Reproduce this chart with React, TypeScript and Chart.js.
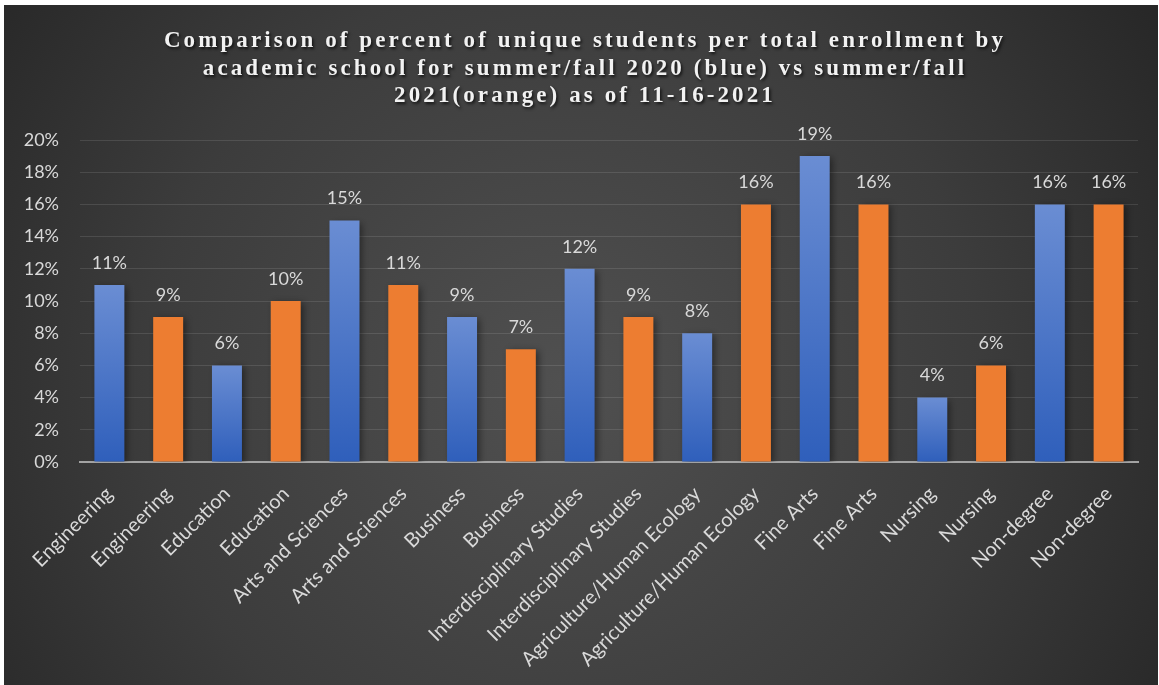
import React, { useEffect, useRef } from "react";
import { Chart, registerables } from "chart.js";

Chart.register(...registerables);

const categories: string[] = [
  "Engineering", "Engineering",
  "Education", "Education",
  "Arts and Sciences", "Arts and Sciences",
  "Business", "Business",
  "Interdisciplinary Studies", "Interdisciplinary Studies",
  "Agriculture/Human Ecology", "Agriculture/Human Ecology",
  "Fine Arts", "Fine Arts",
  "Nursing", "Nursing",
  "Non-degree", "Non-degree",
];

const percentValues: number[] = [11, 9, 6, 10, 15, 11, 9, 7, 12, 9, 8, 16, 19, 16, 4, 6, 16, 16];

// 0 = summer/fall 2020 (blue), 1 = summer/fall 2021 (orange)
const yearGroup: number[] = [0, 1, 0, 1, 0, 1, 0, 1, 0, 1, 0, 1, 0, 1, 0, 1, 0, 1];

const titleLines: string[] = [
  "Comparison of percent of unique students per total enrollment by",
  "academic school for summer/fall 2020 (blue) vs summer/fall",
  "2021(orange) as of 11-16-2021",
];

const yMin = 0;
const yMax = 20;
const yStep = 2;

const W = 1154;
const H = 680;
const LABEL_FONT = "Lato";
const TEXT_COLOR = "#d9d9d9";

const backgroundPlugin = {
  id: "bgGradient",
  beforeDraw(chart: any) {
    const { ctx, width, height } = chart;
    ctx.save();
    const g = ctx.createRadialGradient(560, 380, 0, 560, 380, 760);
    g.addColorStop(0, "#505050");
    g.addColorStop(0.55, "#3c3c3c");
    g.addColorStop(1, "#232323");
    ctx.fillStyle = g;
    ctx.fillRect(0, 0, width, height);
    ctx.restore();
  },
};

const shadowPlugin = {
  id: "barShadow",
  beforeDatasetsDraw(chart: any) {
    const ctx = chart.ctx;
    ctx.save();
    ctx.shadowColor = "rgba(0,0,0,0.45)";
    ctx.shadowBlur = 7;
    ctx.shadowOffsetX = 3;
    ctx.shadowOffsetY = 2;
  },
  afterDatasetsDraw(chart: any) {
    chart.ctx.restore();
  },
};

const labelsPlugin = {
  id: "valueLabels",
  afterDatasetsDraw(chart: any) {
    const ctx = chart.ctx;
    const meta = chart.getDatasetMeta(0);
    ctx.save();
    ctx.font = `18px ${LABEL_FONT}`;
    ctx.fillStyle = TEXT_COLOR;
    ctx.textAlign = "center";
    ctx.textBaseline = "middle";
    meta.data.forEach((el: any, i: number) => {
      ctx.fillText(`${percentValues[i]}%`, el.x, el.y - 22);
    });
    ctx.restore();
  },
};

const titlePlugin = {
  id: "spacedTitle",
  afterDraw(chart: any) {
    const ctx = chart.ctx;
    ctx.save();
    ctx.font = `bold 23px "Liberation Serif"`;
    (ctx as any).letterSpacing = "3.1px";
    ctx.fillStyle = "#f2f2f2";
    ctx.textAlign = "center";
    ctx.textBaseline = "alphabetic";
    ctx.shadowColor = "rgba(0,0,0,0.7)";
    ctx.shadowBlur = 3;
    ctx.shadowOffsetX = 1.5;
    ctx.shadowOffsetY = 2;
    const baselines = [42, 70, 97];
    titleLines.forEach((line, i) => {
      ctx.fillText(line, 581, baselines[i]);
    });
    ctx.restore();
  },
};

export default function App() {
  const canvasRef = useRef<HTMLCanvasElement | null>(null);

  useEffect(() => {
    document.body.style.margin = "0";
    document.body.style.background = "#ffffff";
    const canvas = canvasRef.current;
    if (!canvas) return;

    const chart = new Chart(canvas, {
      type: "bar",
      data: {
        labels: categories,
        datasets: [
          {
            data: percentValues,
            backgroundColor: (c: any) => {
              const i = c.dataIndex;
              if (yearGroup[i] === 1) return "#ed7d31";
              const ch = c.chart;
              const ys = ch.scales && ch.scales.y;
              if (!ys || !ch.chartArea) return "#4472c4";
              const top = ys.getPixelForValue(percentValues[i]);
              const base = ys.getPixelForValue(0);
              if (!isFinite(top) || !isFinite(base) || top === base) return "#4472c4";
              const g = ch.ctx.createLinearGradient(0, top, 0, base);
              g.addColorStop(0, "#6a8dd3");
              g.addColorStop(1, "#2f5fbb");
              return g;
            },
            borderWidth: 0,
            categoryPercentage: 1,
            barPercentage: 0.51,
          },
        ],
      },
      options: {
        responsive: false,
        animation: false,
        maintainAspectRatio: false,
        layout: { padding: { top: 135, right: 20, left: 0, bottom: 0 } },
        plugins: {
          legend: { display: false },
          title: { display: false },
          tooltip: { enabled: false },
        },
        scales: {
          x: {
            grid: { display: false, drawTicks: false },
            border: { display: true, color: "#a3a3a3", width: 2 },
            ticks: {
              color: TEXT_COLOR,
              font: { family: LABEL_FONT, size: 20 },
              minRotation: 45,
              maxRotation: 45,
              autoSkip: false,
              padding: 20,
            },
            afterFit: (scale: any) => {
              scale.height = H - 457;
            },
          },
          y: {
            min: yMin,
            max: yMax,
            grid: { color: "rgba(255,255,255,0.11)", lineWidth: 1, drawTicks: false },
            border: { display: false },
            ticks: {
              stepSize: yStep,
              color: TEXT_COLOR,
              font: { family: LABEL_FONT, size: 18 },
              padding: 21,
              callback: (v: any) => `${v}%`,
            },
            afterFit: (scale: any) => {
              scale.width = 76;
            },
          },
        },
      },
      plugins: [backgroundPlugin, shadowPlugin, labelsPlugin, titlePlugin],
    });

    return () => chart.destroy();
  }, []);

  return (
    <div style={{ padding: "5px 0 0 4px", background: "#ffffff" }}>
      <canvas ref={canvasRef} width={W} height={H} style={{ display: "block", width: W, height: H }} />
    </div>
  );
}
